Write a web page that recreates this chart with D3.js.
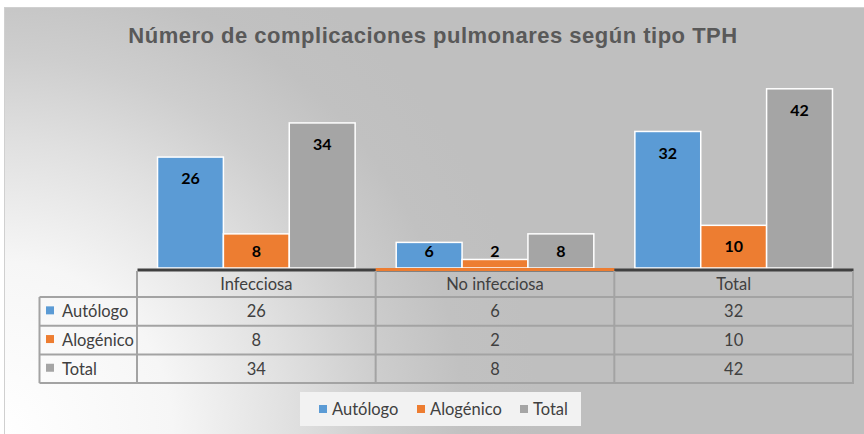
<!DOCTYPE html>
<html>
<head>
<meta charset="utf-8">
<script src="https://cdn.jsdelivr.net/npm/d3@7"></script>
<style>
  body { margin: 0; background: #fff; }
  svg { display: block; }
</style>
</head>
<body>
<div id="chart"></div>
<script>
// data
const categories = ["Infecciosa", "No infecciosa", "Total"];
const seriesNames = ["Autólogo", "Alogénico", "Total"];
const autologo = [26, 6, 32];
const alogenico = [8, 2, 10];
const totales = [34, 8, 42];
const colors = ["#5b9bd5", "#ed7d31", "#a5a5a5"];

const series = [autologo, alogenico, totales];

let w = 864;
let h = 434;
let baseline = 268;
let tableLeft = 39.5;
let tableTop = 270;
let headerH = 27;
let rowH = 28.7;

const svg = d3.select('#chart')
  .append('svg')
  .attr('width', w)
  .attr('height', h);

// background gradient, light at bottom left
const defs = svg.append('defs');
const grad = defs.append('radialGradient')
  .attr('id', 'bg')
  .attr('gradientUnits', 'userSpaceOnUse')
  .attr('cx', 0).attr('cy', 434).attr('r', 540);
[[0, '#ffffff'], [0.32, '#f6f6f6'], [0.54, '#e0e0e0'], [0.7, '#cecece'], [0.86, '#c1c1c1'], [1, '#bfbfbf']]
  .forEach(s => grad.append('stop').attr('offset', s[0]).attr('stop-color', s[1]));

svg.append('rect')
  .attr('x', 4.5).attr('y', 7.5)
  .attr('width', w).attr('height', h)
  .attr('fill', 'url(#bg)')
  .attr('stroke', '#d0d0d0')
  .attr('stroke-width', 1);

// title
svg.append('text')
  .attr('x', 433)
  .attr('y', 43)
  .attr('text-anchor', 'middle')
  .style('font-family', '"Liberation Sans", Arial, sans-serif')
  .style('font-weight', 'bold')
  .style('font-size', '22px')
  .style('letter-spacing', '0.5px')
  .style('fill', '#595959')
  .text('Número de complicaciones pulmonares según tipo TPH');

// scales
const xScale = d3.scaleBand()
  .domain(categories)
  .range([137, 853]);

const gap = xScale.bandwidth() * 0.086;
const xInner = d3.scaleBand()
  .domain(seriesNames)
  .range([gap, xScale.bandwidth() - gap]);

const yScale = d3.scaleLinear()
  .domain([0, 45])
  .range([baseline, 76]);

// bars
const groups = svg.selectAll('g.series')
  .data(series)
  .enter()
  .append('g')
  .attr('class', 'series');

groups.each(function (vals, si) {
  const g = d3.select(this);
  g.selectAll('rect')
    .data(vals)
    .enter()
    .append('rect')
    .attr('x', (d, i) => xScale(categories[i]) + xInner(seriesNames[si]))
    .attr('y', d => yScale(d))
    .attr('width', xInner.bandwidth())
    .attr('height', d => baseline - yScale(d))
    .attr('fill', colors[si])
    .attr('stroke', '#ffffff')
    .attr('stroke-width', 1.5);

  g.selectAll('text')
    .data(vals)
    .enter()
    .append('text')
    .attr('x', (d, i) => xScale(categories[i]) + xInner(seriesNames[si]) + xInner.bandwidth() / 2)
    .attr('y', d => Math.min(yScale(d) + 21.5, baseline - 17))
    .attr('dy', '0.35em')
    .attr('text-anchor', 'middle')
    .style('font-family', 'Lato, "Open Sans", sans-serif')
    .style('font-weight', 'bold')
    .style('font-size', '16px')
    .style('fill', '#000')
    .text(d => d);
});

// axis
const xAxis = d3.axisBottom(xScale).tickSize(0).tickSizeOuter(0).tickFormat('');
const axisG = svg.append('g')
  .attr('transform', `translate(0, ${baseline + 1.5})`)
  .call(xAxis);
axisG.select('.domain').attr('stroke', '#404040').attr('stroke-width', 3);

// the middle segment shows orange in the original
svg.append('line')
  .attr('x1', xScale(categories[1])).attr('x2', xScale(categories[1]) + xScale.bandwidth())
  .attr('y1', baseline + 1.5).attr('y2', baseline + 1.5)
  .attr('stroke', colors[1]).attr('stroke-width', 3);

// data table
const gridColor = '#a3a3a3';
const tableBottom = tableTop + headerH + rowH * seriesNames.length;
const table = svg.append('g');

// horizontal lines
for (let r = 0; r <= seriesNames.length; r++) {
  const yy = tableTop + headerH + r * rowH;
  table.append('line')
    .attr('x1', tableLeft).attr('x2', 853)
    .attr('y1', yy).attr('y2', yy)
    .attr('stroke', gridColor).attr('stroke-width', 2);
}
// vertical lines
table.append('line')
  .attr('x1', tableLeft).attr('x2', tableLeft)
  .attr('y1', tableTop + headerH).attr('y2', tableBottom)
  .attr('stroke', gridColor).attr('stroke-width', 2);
categories.forEach((c, i) => {
  table.append('line')
    .attr('x1', xScale(c)).attr('x2', xScale(c))
    .attr('y1', tableTop + 1).attr('y2', tableBottom)
    .attr('stroke', gridColor).attr('stroke-width', 2);
});
table.append('line')
  .attr('x1', 853).attr('x2', 853)
  .attr('y1', tableTop + 1).attr('y2', tableBottom + 1)
  .attr('stroke', gridColor).attr('stroke-width', 2);

const cellFont = (sel) => sel
  .style('font-family', 'Lato, "Open Sans", sans-serif')
  .style('font-size', '16.5px')
  .style('fill', '#404040');

// header
categories.forEach(c => {
  table.append('text')
    .attr('x', xScale(c) + xScale.bandwidth() / 2)
    .attr('y', tableTop + headerH / 2 + 1)
    .attr('dy', '0.35em')
    .attr('text-anchor', 'middle')
    .call(cellFont)
    .text(c);
});

// rows
seriesNames.forEach((s, si) => {
  const cy = tableTop + headerH + rowH * si + rowH / 2;
  table.append('rect')
    .attr('x', 46).attr('y', cy - 5)
    .attr('width', 8).attr('height', 8)
    .attr('fill', colors[si]);
  table.append('text')
    .attr('x', 62).attr('y', cy)
    .attr('dy', '0.35em')
    .call(cellFont)
    .text(s);
  series[si].forEach((v, i) => {
    table.append('text')
      .attr('x', xScale(categories[i]) + xScale.bandwidth() / 2)
      .attr('y', cy)
      .attr('dy', '0.35em')
      .attr('text-anchor', 'middle')
      .call(cellFont)
      .text(v);
  });
});

// legend
const legend = svg.append('g');
legend.append('rect')
  .attr('x', 300).attr('y', 392)
  .attr('width', 281).attr('height', 34)
  .attr('fill', '#f2f2f2');

const legendX = [319, 417, 520];
seriesNames.forEach((s, si) => {
  legend.append('rect')
    .attr('x', legendX[si]).attr('y', 405)
    .attr('width', 8).attr('height', 8)
    .attr('fill', colors[si]);
  legend.append('text')
    .attr('x', legendX[si] + 13).attr('y', 409)
    .attr('dy', '0.35em')
    .call(cellFont)
    .text(s);
});
</script>
</body>
</html>
